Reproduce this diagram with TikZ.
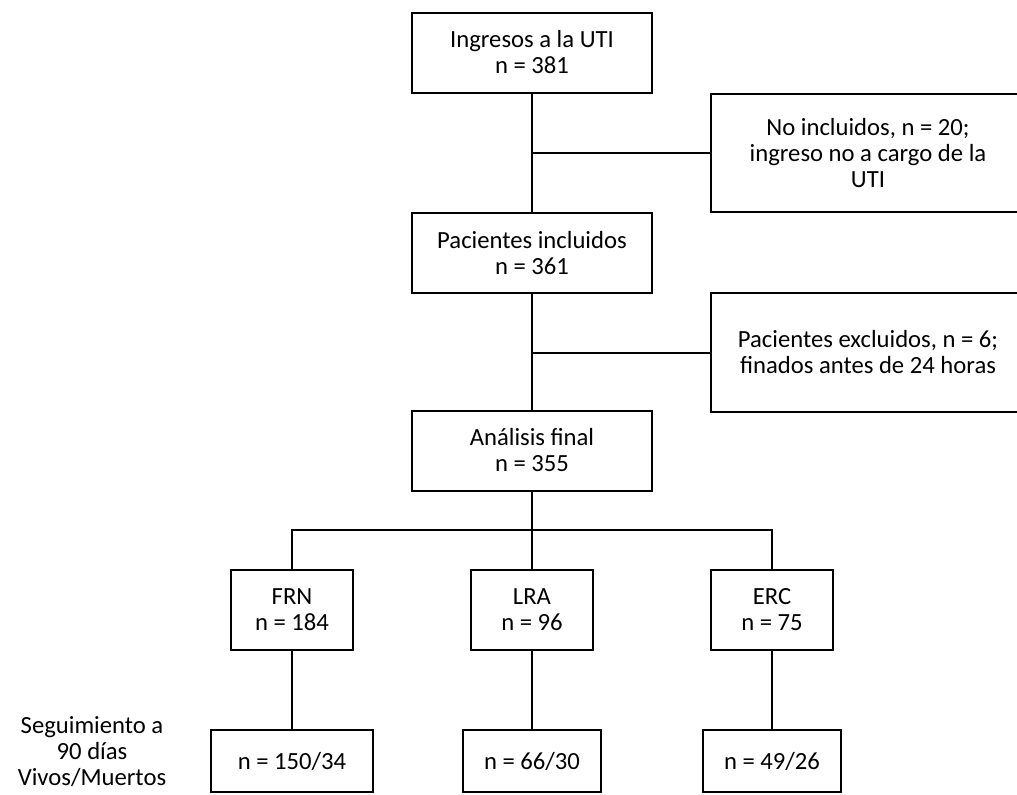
\documentclass[tikz,border=0pt]{standalone}
\usepackage{fontspec}
\setmainfont{Carlito}
\usetikzlibrary{positioning}

\begin{document}
\begin{tikzpicture}[
    x=0.75pt, y=-0.75pt,% picture measured in pixels
       box/.style = {draw, line width=1.5pt, align=center, inner sep=2pt,
                     font=\fontsize{18.5}{19.5}\selectfont},% nodes style
      main/.style = {box, minimum width=180pt, minimum height=60pt},
      side/.style = {box, minimum width=235.5pt, minimum height=89pt},
     group/.style = {box, minimum width=91pt, minimum height=60pt},
    outbox/.style = {box, minimum height=46.5pt},
      link/.style = {line width=1.5pt}
    ]
    \useasboundingbox (0,0) rectangle (1017,794);
    \node (in1) [main] at (532,52.5) {Ingresos a la UTI\\n = 381};
    \node (inc) [main] at (532,253) {Pacientes incluidos\\n = 361};
    \node (fin) [main] at (532,450.5) {Análisis final\\n = 355};
    \node (noinc) [side] at (868,153) {No incluidos, n = 20;\\ingreso no a cargo de la\\UTI};
    \node (exc) [side] at (868,352.5) {Pacientes excluidos, n = 6;\\finados antes de 24 horas};
    \node (frn) [group] at (292,610) {FRN\\n = 184};
    \node (lra) [group] at (532,610) {LRA\\n = 96};
    \node (erc) [group] at (772,610) {ERC\\n = 75};
    \node (frnout) [outbox, minimum width=121pt] at (292,761) {n = 150/34};
    \node (lraout) [outbox, minimum width=104pt] at (532,761) {n = 66/30};
    \node (ercout) [outbox, minimum width=104pt] at (772,761) {n = 49/26};
    \node (seg) [align=center, font=\fontsize{18.5}{19.5}\selectfont] at (92,752) {Seguimiento a\\90 días\\Vivos/Muertos};
    \coordinate (split) at (532,530);
    \draw[link] (in1) -- (inc);
    \draw[link] (inc) -- (fin);
    \draw[link] (in1.south |- noinc.west) -- (noinc.west);
    \draw[link] (inc.south |- exc.west) -- (exc.west);
    \draw[link] (fin) -- (split);
    \draw[link] (frn.north) |- (split) -| (erc.north);
    \draw[link] (split) -- (lra);
    \draw[link] (frn) -- (frnout);
    \draw[link] (lra) -- (lraout);
    \draw[link] (erc) -- (ercout);
\end{tikzpicture}
\end{document}
